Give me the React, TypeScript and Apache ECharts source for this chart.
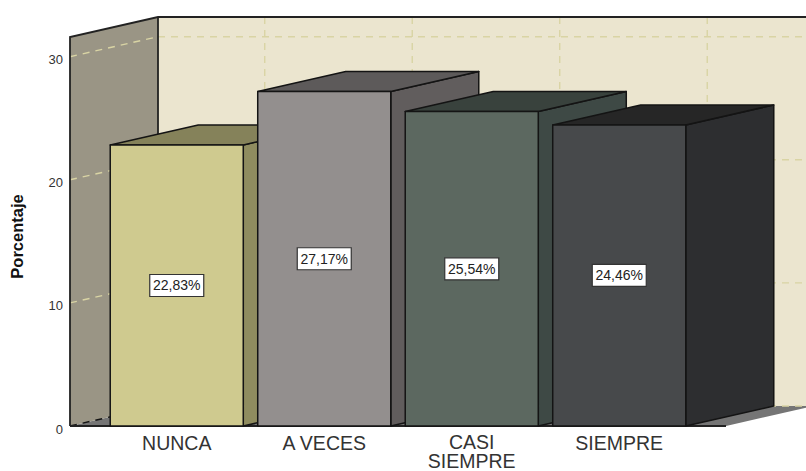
import React, { useEffect, useRef } from "react";
import * as echarts from "echarts";

const categories = ["NUNCA", "A VECES", "CASI\nSIEMPRE", "SIEMPRE"];
const percentages = [22.83, 27.17, 25.54, 24.46];
const valueLabels = ["22,83%", "27,17%", "25,54%", "24,46%"];
const frontColors = ["#cfca8f", "#938f8e", "#5c6860", "#47494b"];
const topColors = ["#85825a", "#5d5a5a", "#39423d", "#262626"];
const sideColors = ["#8f8c5f", "#615d5d", "#3e4945", "#2d2e30"];
const axisMax = 31.6;
const gridValues = [10, 20, 30];

const DX = 88;
const DY = -20;
const EDGE = "#141414";
const WALL_GAP = 33;
const FONT = '"Liberation Sans", Arial, sans-serif';

function renderWalls(params: any, api: any) {
  const cs = params.coordSys;
  const left = cs.x - WALL_GAP;
  const right = cs.x + cs.width + WALL_GAP;
  const bottom = api.coord([0, 0])[1];
  const top = api.coord([0, axisMax])[1];
  const children: any[] = [];
  const dash = { stroke: "#d9d4a4", lineWidth: 1.4, lineDash: [7, 6], fill: null };
  // back wall
  children.push({
    type: "rect",
    shape: { x: left + DX, y: top + DY, width: 806 - left - DX, height: bottom - top },
    style: { fill: "#ebe5cf" },
  });
  // floor
  children.push({
    type: "polygon",
    shape: { points: [[left, bottom], [right, bottom], [right + DX, bottom + DY], [left + DX, bottom + DY]] },
    style: { fill: "#757575" },
  });
  // side wall
  children.push({
    type: "polygon",
    shape: { points: [[left, top], [left + DX, top + DY], [left + DX, bottom + DY], [left, bottom]] },
    style: { fill: "#9a9585" },
  });
  // grid lines
  gridValues.forEach((v) => {
    const y = api.coord([0, v])[1];
    children.push({ type: "line", shape: { x1: left, y1: y, x2: left + DX, y2: y + DY }, style: dash });
    children.push({ type: "line", shape: { x1: left + DX, y1: y + DY, x2: 806, y2: y + DY }, style: dash });
  });
  categories.forEach((_, i) => {
    const x = api.coord([i, 0])[0] + DX;
    children.push({ type: "line", shape: { x1: x, y1: top + DY, x2: x, y2: bottom + DY }, style: dash });
  });
  // floor front-left edge
  children.push({
    type: "line",
    shape: { x1: left, y1: bottom, x2: left + DX, y2: bottom + DY },
    style: { stroke: "#141414", lineWidth: 1.5, lineDash: [7, 6] },
  });
  children.push({
    type: "line",
    shape: { x1: left + DX, y1: bottom + DY, x2: 806, y2: bottom + DY },
    style: { stroke: "#d9d4a4", lineWidth: 1.4, lineDash: [7, 6] },
  });
  // frame
  const frame = { stroke: "#222222", lineWidth: 1.8, fill: null };
  children.push({ type: "polyline", shape: { points: [[left, bottom], [left, top], [left + DX, top + DY], [806, top + DY]] }, style: frame });
  children.push({ type: "line", shape: { x1: left + DX, y1: top + DY, x2: left + DX, y2: bottom + DY }, style: frame });
  children.push({ type: "line", shape: { x1: left, y1: bottom, x2: right, y2: bottom }, style: { stroke: "#222222", lineWidth: 2 } });
  return { type: "group", children };
}

function renderBar(params: any, api: any) {
  const i = params.dataIndex;
  const c = api.coord([api.value(0), api.value(1)]);
  const base = api.coord([api.value(0), 0]);
  const band = api.size([1, 0])[0];
  const w = band * 0.902;
  const x0 = c[0] - w / 2;
  const x1 = c[0] + w / 2;
  const yt = c[1];
  const yb = base[1];
  const edge = { stroke: EDGE, lineWidth: 1.5, lineJoin: "round" };
  const z2 = i * 10;
  return {
    type: "group",
    children: [
      {
        type: "polygon", z2,
        shape: { points: [[x1, yt], [x1 + DX, yt + DY], [x1 + DX, yb + DY], [x1, yb]] },
        style: { fill: sideColors[i], ...edge },
      },
      {
        type: "polygon", z2,
        shape: { points: [[x0, yt], [x0 + DX, yt + DY], [x1 + DX, yt + DY], [x1, yt]] },
        style: { fill: topColors[i], ...edge },
      },
      {
        type: "rect", z2: z2 + 1,
        shape: { x: x0, y: yt, width: w, height: yb - yt },
        style: { fill: frontColors[i], ...edge },
      },
      {
        type: "rect", z2: z2 + 2,
        shape: { x: c[0] - 27, y: (yt + yb) / 2 - 11, width: 54, height: 22 },
        style: { fill: "#ffffff", stroke: "#333333", lineWidth: 1.2 },
      },
      {
        type: "text", z2: z2 + 3,
        style: {
          text: valueLabels[i],
          x: c[0],
          y: (yt + yb) / 2,
          align: "center",
          verticalAlign: "middle",
          fill: "#222222",
          font: `14px ${FONT}`,
        },
      },
    ],
  };
}

export default function App() {
  const ref = useRef<HTMLDivElement>(null);
  useEffect(() => {
    const chart = echarts.init(ref.current!, undefined, { renderer: "svg" });
    chart.setOption({
      animation: false,
      backgroundColor: "#ffffff",
      grid: { left: 103, width: 590, top: 37, height: 389, outerBoundsMode: "none" },
      xAxis: {
        type: "category",
        data: categories,
        axisLine: { show: false },
        axisTick: { show: false },
        axisLabel: {
          interval: 0,
          margin: 6,
          color: "#333333",
          fontFamily: FONT,
          fontSize: 19.5,
          lineHeight: 19.5,
          hideOverlap: false,
          formatter: (value: string) => (value.includes("\n") ? value : `{one|${value}}`),
          rich: {
            one: { color: "#333333", fontFamily: FONT, fontSize: 19.5, lineHeight: 19.5, padding: [3, 0, 0, 0] },
          },
        },
      },
      yAxis: {
        type: "value",
        min: 0,
        max: axisMax,
        interval: 10,
        offset: 33,
        name: "Porcentaje",
        nameLocation: "middle",
        nameGap: 45,
        nameTextStyle: { color: "#111111", fontFamily: FONT, fontWeight: "bold", fontSize: 16.5, padding: [0, 0, 0, -10] },
        axisLine: { show: false },
        axisTick: { show: false },
        splitLine: { show: false },
        axisLabel: { margin: 7, color: "#333333", fontFamily: FONT, fontSize: 13, showMaxLabel: false, verticalAlign: "top", lineHeight: 6 },
      },
      series: [
        { type: "custom", renderItem: renderWalls, data: [[0, 0]], z: 1, silent: true, clip: false },
        {
          type: "custom",
          renderItem: renderBar,
          data: percentages.map((v, i) => [i, v]),
          encode: { x: 0, y: 1 },
          z: 2,
          silent: true,
          clip: false,
        },
      ],
    });
    return () => chart.dispose();
  }, []);
  return <div ref={ref} style={{ width: 806, height: 471, position: "absolute", left: 0, top: 0 }} />;
}
